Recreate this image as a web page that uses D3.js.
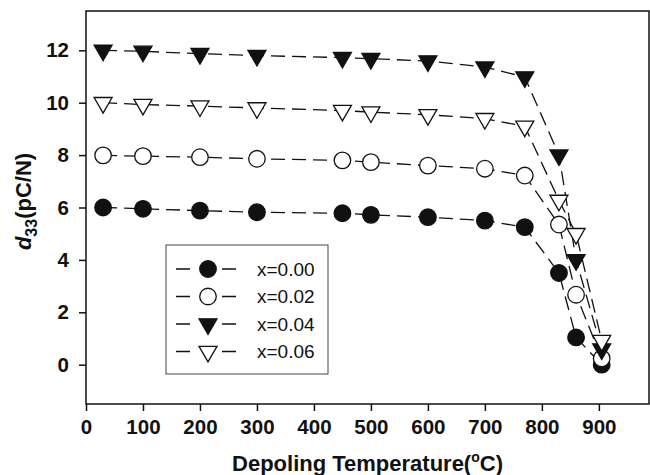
<!DOCTYPE html>
<html>
<head>
<meta charset="utf-8">
<script src="https://cdn.jsdelivr.net/npm/d3@7"></script>
<style>
  body { margin: 0; background: #fff; }
  text { font-family: "Liberation Sans", Arial, sans-serif; fill: #111; }
</style>
</head>
<body>
<div id="chart"></div>
<script>
// data
const temps = [30, 100, 200, 300, 450, 500, 600, 700, 770, 830, 860, 905];
const d33_x000 = [6.0, 5.95, 5.88, 5.82, 5.78, 5.72, 5.63, 5.5, 5.25, 3.5, 1.04, 0.0];
const d33_x002 = [7.99, 7.96, 7.92, 7.86, 7.8, 7.73, 7.6, 7.48, 7.22, 5.35, 2.67, 0.24];
const d33_x004 = [12.0, 11.96, 11.87, 11.8, 11.72, 11.68, 11.59, 11.36, 10.98, 8.0, 4.0, 0.6];
const d33_x006 = [10.0, 9.93, 9.87, 9.8, 9.7, 9.64, 9.54, 9.39, 9.1, 6.27, 5.0, 0.92];
const seriesNames = ['x=0.00', 'x=0.02', 'x=0.04', 'x=0.06'];
const xTicks = [0, 100, 200, 300, 400, 500, 600, 700, 800, 900];
const yTicks = [0, 2, 4, 6, 8, 10, 12];

const width = 650;
const height = 475;
const plot = { left: 86, top: 11, right: 649, bottom: 404 };

const series = [
    { name: seriesNames[0], values: d33_x000, symbol: 'circle', fill: '#111' },
    { name: seriesNames[1], values: d33_x002, symbol: 'circle', fill: '#fff' },
    { name: seriesNames[2], values: d33_x004, symbol: 'triangle', fill: '#111' },
    { name: seriesNames[3], values: d33_x006, symbol: 'triangle', fill: '#fff' }
];

const svg = d3.select('#chart')
    .append('svg')
    .attr('width', width)
    .attr('height', height)

const x = d3.scaleLinear().domain([0, 988]).range([plot.left, plot.right]);
const y = d3.scaleLinear().domain([-1.5, 13.5]).range([plot.bottom, plot.top]);

// marker shapes
const circleSym = d3.symbol().type(d3.symbolCircle).size(215);
const triSym = d3.symbol().type(d3.symbolTriangle).size(140);
function drawMarker(g, s, cx, cy) {
    if (s.symbol === 'circle') {
        g.append('path')
            .attr('d', circleSym())
            .attr('transform', `translate(${cx},${cy})`)
            .attr('fill', s.fill)
            .attr('stroke', '#111')
            .attr('stroke-width', 1.3)
    } else {
        g.append('path')
            .attr('d', triSym())
            .attr('transform', `translate(${cx},${cy}) rotate(180)`)
            .attr('fill', s.fill)
            .attr('stroke', '#111')
            .attr('stroke-width', 1.3)
    }
}

// axes
const xAxis = svg.append('g')
    .attr('transform', `translate(0,${plot.bottom})`)
    .call(d3.axisBottom(x).tickValues(xTicks).tickSize(7).tickPadding(8))
const yAxis = svg.append('g')
    .attr('transform', `translate(${plot.left},0)`)
    .call(d3.axisLeft(y).tickValues(yTicks).tickSize(7).tickPadding(10))

svg.selectAll('.domain').remove()
svg.selectAll('.tick line').attr('stroke', '#111').attr('stroke-width', 1.5)
svg.selectAll('.tick text')
    .attr('font-size', 20.5)
    .attr('font-weight', 'bold')
    .attr('font-family', '"Liberation Sans", Arial, sans-serif')
    .attr('fill', '#111')

// frame
svg.append('rect')
    .attr('x', plot.left)
    .attr('y', plot.top)
    .attr('width', plot.right - plot.left)
    .attr('height', plot.bottom - plot.top)
    .attr('fill', 'none')
    .attr('stroke', '#111')
    .attr('stroke-width', 1.5)

// series lines + markers
const line = d3.line()
    .x((d, i) => x(temps[i]))
    .y(d => y(d))

series.forEach(s => {
    const g = svg.append('g')
    g.append('path')
        .datum(s.values)
        .attr('d', line)
        .attr('fill', 'none')
        .attr('stroke', '#111')
        .attr('stroke-width', 1.3)
        .attr('stroke-dasharray', '14,7')
    s.values.forEach((v, i) => drawMarker(g, s, x(temps[i]), y(v)))
})

// legend
const legend = svg.append('g')
legend.append('rect')
    .attr('x', 166)
    .attr('y', 245)
    .attr('width', 162)
    .attr('height', 129)
    .attr('fill', '#fff')
    .attr('stroke', '#444')
    .attr('stroke-width', 1)

series.forEach((s, i) => {
    const ry = 269 + i * 27.5
    legend.append('line')
        .attr('x1', 176)
        .attr('x2', 236)
        .attr('y1', ry)
        .attr('y2', ry)
        .attr('stroke', '#111')
        .attr('stroke-width', 1.3)
        .attr('stroke-dasharray', '14,32')
    drawMarker(legend, s, 208, ry)
    legend.append('text')
        .attr('x', 257)
        .attr('y', ry)
        .attr('dy', '0.36em')
        .attr('font-size', 19)
        .text(s.name)
})

// axis titles
const xTitle = svg.append('text')
    .attr('x', (plot.left + plot.right) / 2)
    .attr('y', 471)
    .attr('text-anchor', 'middle')
    .attr('font-size', 22)
    .attr('font-weight', 'bold')
xTitle.append('tspan').text('Depoling Temperature(')
xTitle.append('tspan').attr('font-size', 14).attr('dy', -9).text('o')
xTitle.append('tspan').attr('dy', 9).text('C)')

const yTitle = svg.append('text')
    .attr('transform', `translate(31,${(plot.top + plot.bottom) / 2 - 6}) rotate(-90)`)
    .attr('text-anchor', 'middle')
    .attr('font-size', 22)
    .attr('font-weight', 'bold')
yTitle.append('tspan').attr('font-style', 'italic').text('d')
yTitle.append('tspan').attr('font-size', 16).attr('dy', 6).text('33')
yTitle.append('tspan').attr('dy', -6).text('(pC/N)')
</script>
</body>
</html>
